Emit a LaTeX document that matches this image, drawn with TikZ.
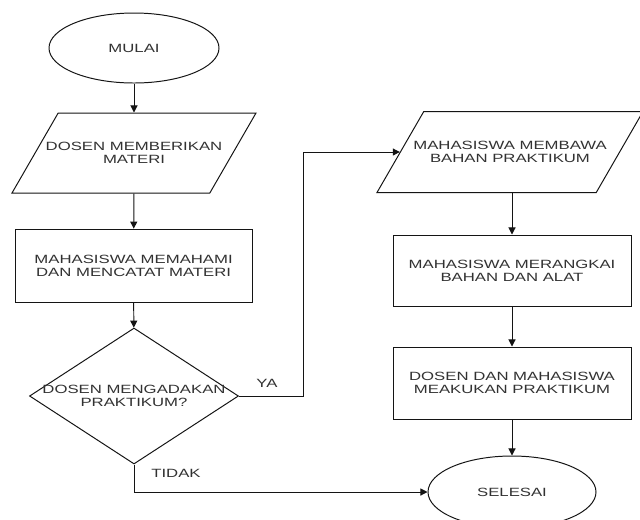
\documentclass[tikz,border=0pt]{standalone}
\usepackage{fontspec}
\setmainfont[FakeStretch=1.4]{Liberation Sans}
\usepackage{tikz}
\usetikzlibrary{arrows.meta,positioning,shapes.geometric}
\definecolor{fcline}{RGB}{20,20,20}
\definecolor{fctext}{RGB}{50,50,50}
\tikzset{
  fcbase/.style={draw=fcline, line width=0.7pt, font=\fontsize{8.5}{9.2}\selectfont,
                 text=fctext, align=center, inner sep=0pt},
  terminal/.style={fcbase, ellipse, minimum width=4.2cm, minimum height=1.8cm},
  iobox/.style={fcbase, trapezium, trapezium left angle=60, trapezium right angle=120,
                trapezium stretches body=true, inner ysep=1cm},
  procbox/.style={fcbase, rectangle, minimum width=5.95cm, minimum height=1.8cm},
  decision/.style={fcbase, diamond, minimum width=5.225cm, minimum height=3.4cm},
  flow/.style={draw=fcline, line width=0.7pt, -{Triangle[length=5pt,width=5pt]}},
  lbl/.style={font=\fontsize{8.5}{9.2}\selectfont, text=fctext, align=center}
}

\begin{document}
\begin{tikzpicture}
\path[use as bounding box, fill=white] (0,0) rectangle (16,-12.975);
% Left column
\node[terminal, minimum width=4.25cm, minimum height=1.75cm] (mulai) at (3.35,-1.2) {MULAI};
\node[iobox, minimum width=6.1cm] (materi) at (3.35,-3.825) {};
\node[lbl] (materitxt) at (materi.center) {DOSEN MEMBERIKAN\\MATERI};
\node[procbox, minimum width=5.925cm, minimum height=1.825cm] (catat) at (3.34,-6.64)
      {MAHASISWA MEMAHAMI\\DAN MENCATAT MATERI};
\node[decision] (cek) at (3.35,-9.9) {};
\node[lbl] (cektxt) at (cek.center) {DOSEN MENGADAKAN\\PRAKTIKUM?};
% Right column
\node[iobox, minimum width=6.65cm, inner ysep=1.0125cm] (bawa) at (12.75,-3.8) {};
\node[lbl] (bawatxt) at (bawa.center) {MAHASISWA MEMBAWA\\BAHAN PRAKTIKUM};
\node[procbox, minimum height=1.775cm] (rangkai) at (12.8,-6.7625)
      {MAHASISWA MERANGKAI\\BAHAN DAN ALAT};
\node[procbox] (praktik) at (12.8,-9.575)
      {DOSEN DAN MAHASISWA\\MEAKUKAN PRAKTIKUM};
\node[terminal] (selesai) at (12.8,-12.3) {SELESAI};
% Connectors
\draw[flow] (mulai) -- (materi);
\draw[flow] (materi) -- (catat);
\draw[flow] (catat) -- (cek);
\draw[flow] (cek.east) -- ++(1.6,0) |- (bawa.west);
\draw[flow] (cek.south) |- (selesai.west);
\draw[flow] (bawa.south -| rangkai.north) -- (rangkai);
\draw[flow] (rangkai) -- (praktik);
\draw[flow] (praktik) -- (selesai);
% Branch labels
\node[lbl] (ya) at (6.675,-9.575) {YA};
\node[lbl] (tidak) at (4.4,-11.825) {TIDAK};
\end{tikzpicture}
\end{document}
